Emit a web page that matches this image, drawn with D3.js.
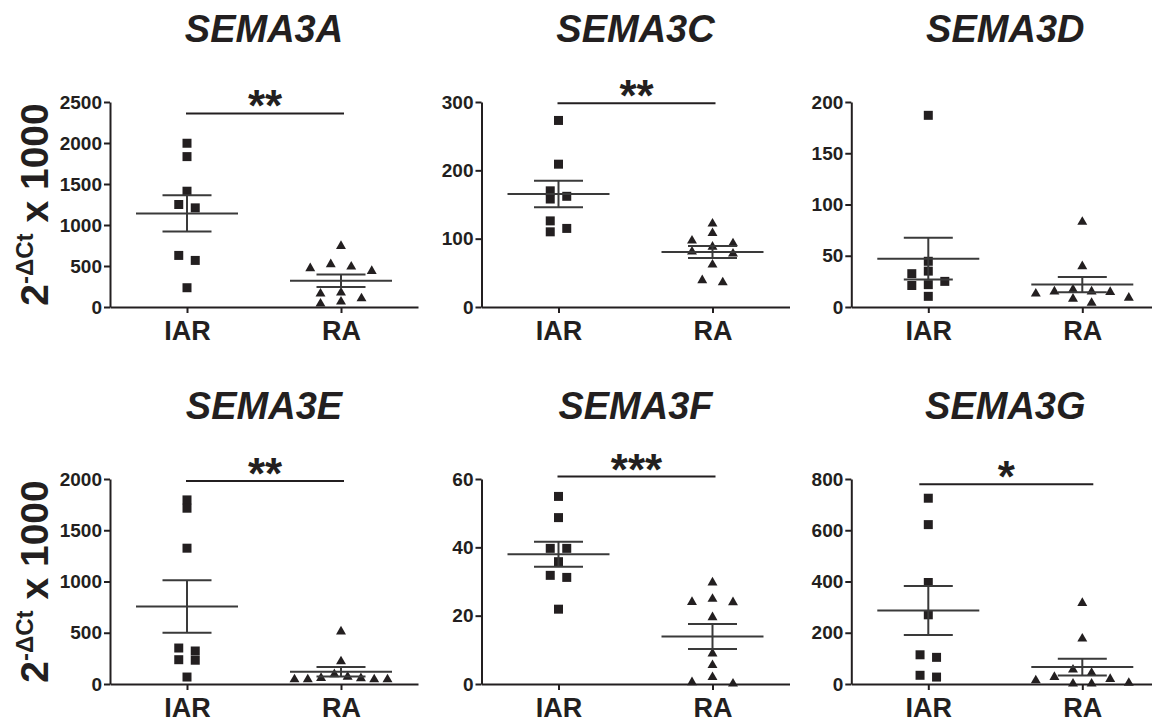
<!DOCTYPE html>
<html>
<head>
<meta charset="utf-8">
<script src="https://d3js.org/d3.v7.min.js"></script>
<style>
  body { margin: 0; background: #fff; }
  text { font-family: "Liberation Sans", Arial, Helvetica, sans-serif; }
</style>
</head>
<body>
<div id="chart"></div>
<script>

// values (2^-dCt x 1000)
var genes = ["SEMA3A", "SEMA3C", "SEMA3D", "SEMA3E", "SEMA3F", "SEMA3G"];
var groups = ["IAR", "RA"];

var iar3A = [1997, 1834, 1412, 1250, 1209, 629, 568, 235];
var ra3A  = [743, 520, 491, 471, 438, 175, 162, 105, 65, 41];
var iar3C = [273, 209, 170, 162, 158, 126, 115, 110];
var ra3C  = [122, 108, 97, 93, 88, 81, 78, 62, 39, 36];
var iar3D = [187, 44.6, 35, 32.5, 25, 21.8, 21, 10.4];
var ra3D  = [83, 39.7, 17, 15, 15, 14.6, 13, 9, 8, 4];
var iar3E = [1796, 1715, 1325, 351, 322, 237, 232, 68];
var ra3E  = [512, 220, 95, 70, 58, 55, 45, 45, 45, 45];
var iar3F = [54.9, 48.7, 39.7, 39.7, 35.8, 31.8, 31.2, 21.9];
var ra3F  = [29.7, 24.9, 24, 23.9, 19.5, 8.9, 5.5, 2, 0.5, 0.1];
var iar3G = [725, 622, 396, 270, 114, 104, 34, 27];
var ra3G  = [316, 177, 56, 43, 27, 19.5, 14, 4, 1.3, 1.3];

var seriesIAR = [iar3A, iar3C, iar3D, iar3E, iar3F, iar3G];
var seriesRA  = [ra3A, ra3C, ra3D, ra3E, ra3F, ra3G];

// y axes
var yMax  = [2500, 300, 200, 2000, 60, 800];
var yStep = [500, 100, 50, 500, 20, 200];

// significance bars
var sigLabel = ["**", "**", "", "**", "***", "*"];
var sigLevel = [2360, 298, null, 1980, 60.7, 780];

var ink = "#231f20";
var W = 1152, H = 723;
var colX = [110, 481.5, 851.3], rowY = [102, 479];
var plotW = 308, plotH = 205;
var gap = 8;   // vertical distance below which markers collide

var svg = d3.select("#chart").append("svg")
  .attr("width", W).attr("height", H);

// GraphPad-like scatter: points close in value are spread sideways
function fits(cl, c) {
  for (var i = c; i < cl.length; i++) if (cl[i].py - cl[i - c].py < gap) return false;
  return true;
}
function swarm(vals, y, spacing) {
  var pts = vals.map(function(v) { return {v: v, py: y(v)}; })
    .sort(function(a, b) { return a.py - b.py; });
  var clusters = [], cur = [];
  pts.forEach(function(p) {
    if (cur.length && p.py - cur[cur.length - 1].py >= gap) { clusters.push(cur); cur = []; }
    cur.push(p);
  });
  if (cur.length) clusters.push(cur);
  clusters.forEach(function(cl) {
    var n = cl.length, c;
    for (c = 1; c < n; c++) if (fits(cl, c)) break;
    var mid = (c - 1) / 2;
    var order = d3.range(c).sort(function(a, b) {
      return Math.abs(a - mid) - Math.abs(b - mid) || a - b;
    });
    var sp = c > 1 ? Math.min(spacing, 93 / (c - 1)) : 0;
    cl.forEach(function(p, i) { p.dx = (order[i % c] - mid) * sp; });
  });
  return pts;
}

genes.forEach(function(gene, k) {
  var g = svg.append("g")
    .attr("transform", "translate(" + colX[k % 3] + "," + rowY[Math.floor(k / 3)] + ")");

  var x = d3.scalePoint().domain(groups).range([0, plotW]).padding(0.5);
  var y = d3.scaleLinear().domain([0, yMax[k]]).range([plotH, 0]);

  // title
  g.append("text")
    .attr("x", plotW / 2).attr("y", -60.5)
    .attr("text-anchor", "middle")
    .style("font-size", "38px").style("font-weight", "bold").style("font-style", "italic")
    .style("fill", ink)
    .text(gene);

  // axes
  var ya = g.append("g")
    .call(d3.axisLeft(y)
      .tickValues(d3.range(0, yMax[k] + 1e-9, yStep[k]))
      .tickFormat(d3.format("d"))
      .tickSize(6).tickPadding(2).tickSizeOuter(0));
  var xa = g.append("g")
    .attr("transform", "translate(0," + plotH + ")")
    .call(d3.axisBottom(x).tickSize(6).tickPadding(8).tickSizeOuter(0));

  [ya, xa].forEach(function(a) {
    a.select(".domain").attr("stroke", ink).attr("stroke-width", 2);
    a.selectAll(".tick line").attr("stroke", ink).attr("stroke-width", 2);
    a.selectAll(".tick text").attr("fill", ink).style("font-weight", "bold")
      .style("font-family", "'Liberation Sans', Arial, sans-serif");
  });
  ya.selectAll(".tick text").style("font-size", "19px");
  xa.selectAll(".tick text").style("font-size", "27px");

  // points + mean +/- SEM
  [seriesIAR[k], seriesRA[k]].forEach(function(vals, j) {
    var cx = x(groups[j]);
    var isSq = j === 0;
    var pts = swarm(vals, y, isSq ? 16.5 : 20.5);
    var sym = d3.symbol().type(isSq ? d3.symbolSquare : d3.symbolTriangle).size(isSq ? 81 : 43);

    g.selectAll(".pt" + j)
      .data(pts)
      .enter()
      .append("path")
        .attr("class", "pt" + j)
        .attr("d", sym)
        .attr("transform", function(d) { return "translate(" + (cx + d.dx) + "," + d.py + ")"; })
        .style("fill", ink);

    var m = d3.mean(vals);
    var se = d3.deviation(vals) / Math.sqrt(vals.length);
    var lines = [
      [cx - 51, y(m), cx + 51, y(m)],
      [cx - 24.5, y(m + se), cx + 24.5, y(m + se)],
      [cx - 24.5, y(m - se), cx + 24.5, y(m - se)],
      [cx, y(m + se), cx, y(m - se)]
    ];
    g.selectAll(".err" + j)
      .data(lines)
      .enter()
      .append("line")
        .attr("class", "err" + j)
        .attr("x1", function(d) { return d[0]; })
        .attr("y1", function(d) { return d[1]; })
        .attr("x2", function(d) { return d[2]; })
        .attr("y2", function(d) { return d[3]; })
        .style("stroke", "#3a3a3a")
        .style("stroke-width", 2);
  });

  // significance
  if (sigLevel[k] != null) {
    var ly = y(sigLevel[k]);
    var wide = sigLabel[k] === "*" ? 8 : 0;
    g.append("line")
      .attr("x1", x("IAR") - 1 - wide).attr("x2", x("RA") + 3 + wide)
      .attr("y1", ly).attr("y2", ly)
      .style("stroke", ink).style("stroke-width", 2);
    g.append("text")
      .attr("x", (x("IAR") + x("RA")) / 2 + 1).attr("y", ly + 8)
      .attr("text-anchor", "middle")
      .style("font-size", "44px").style("font-weight", "bold")
      .style("fill", ink)
      .text(sigLabel[k]);
  }
});

// y axis labels (one per row)
rowY.forEach(function(ry) {
  var t = svg.append("text")
    .attr("transform", "translate(48," + (ry + plotH / 2) + ") rotate(-90)")
    .attr("text-anchor", "middle")
    .style("font-size", "39px").style("font-weight", "bold")
    .style("fill", ink);
  t.append("tspan").text("2");
  t.append("tspan").attr("dy", -15).style("font-size", "24px").text("-\u0394Ct");
  t.append("tspan").attr("dy", 15).text(" x 1000");
});

</script>
</body>
</html>
